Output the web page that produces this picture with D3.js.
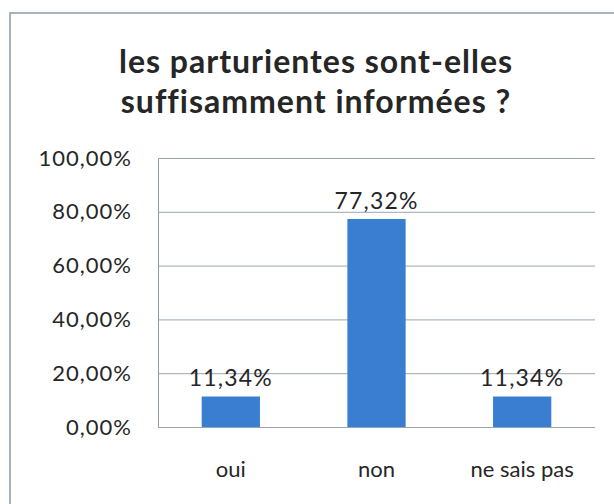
<!DOCTYPE html>
<html>
<head>
<meta charset="utf-8">
<script src="https://cdn.jsdelivr.net/npm/d3@7"></script>
<style>
  body { margin: 0; background: #fff; }
  text { font-family: Lato, "Open Sans", sans-serif; fill: #262626; font-variant-ligatures: none; }
</style>
</head>
<body>
<svg id="chart" width="614" height="504"></svg>
<script>
// data
const categories = ["oui", "non", "ne sais pas"];
const values = [11.34, 77.32, 11.34];
const yTicks = [0, 20, 40, 60, 80, 100];
const titleLines = ["les parturientes sont-elles", "suffisamment informées ?"];

const fmt = (v) => v.toFixed(2).replace(".", ",") + "%";

const svg = d3.select("#chart");
const margin = { top: 158, left: 158, right: 19, bottom: 77 };
const W = 614, H = 504;

// outer chart border (runs off the right and bottom of the scan)
svg.append("rect")
  .attr("x", 10).attr("y", 13)
  .attr("width", 640).attr("height", 540)
  .attr("fill", "none")
  .attr("stroke", "#8d9ba5")
  .attr("stroke-width", 1.5);

// title
svg.append("g").selectAll("text")
  .data(titleLines)
  .join("text")
  .attr("x", 316)
  .attr("y", (d, i) => 73 + i * 40)
  .attr("text-anchor", "middle")
  .style("font-size", "32px")
  .style("letter-spacing", "1px")
  .style("font-weight", "bold")
  .text((d) => d);

const xscale = d3.scaleBand()
  .domain(categories)
  .range([margin.left, W - margin.right])
  .paddingInner(0.6)
  .paddingOuter(0.3);

const yscale = d3.scaleLinear()
  .domain([0, 100])
  .range([H - margin.bottom, margin.top]);

// y axis with gridlines
const yAxis = svg.append("g")
  .attr("transform", `translate(${margin.left},0)`)
  .call(d3.axisLeft(yscale)
    .tickValues(yTicks)
    .tickSize(-(W - margin.right - margin.left))
    .tickPadding(26)
    .tickFormat(fmt));
yAxis.select(".domain").attr("stroke", "#8d9ba5");
yAxis.selectAll(".tick line").attr("stroke", "#9aa6ae");
yAxis.selectAll(".tick text")
  .style("font-size", "22px")
  .style("letter-spacing", "1px")
  .attr("fill", "#262626");

// x axis labels
const xAxis = svg.append("g")
  .attr("transform", `translate(0,${H - margin.bottom})`)
  .call(d3.axisBottom(xscale).tickSize(0).tickPadding(34));
xAxis.select(".domain").remove();
xAxis.selectAll(".tick text")
  .style("font-size", "22px")
  .attr("fill", "#262626");

// bars
const rows = categories.map((c, i) => ({ cat: c, val: values[i] }));
svg.append("g").selectAll("rect")
  .data(rows)
  .join("rect")
  .attr("x", (d) => xscale(d.cat))
  .attr("y", (d) => yscale(d.val))
  .attr("width", xscale.bandwidth())
  .attr("height", (d) => yscale(0) - yscale(d.val))
  .attr("fill", "#3a7ed2");

// data labels
svg.append("g").selectAll("text")
  .data(rows)
  .join("text")
  .attr("x", (d) => xscale(d.cat) + xscale.bandwidth() / 2)
  .attr("y", (d) => yscale(d.val) - 10)
  .attr("text-anchor", "middle")
  .style("font-size", "23px")
  .style("letter-spacing", "1.2px")
  .text((d) => fmt(d.val));
</script>
</body>
</html>
